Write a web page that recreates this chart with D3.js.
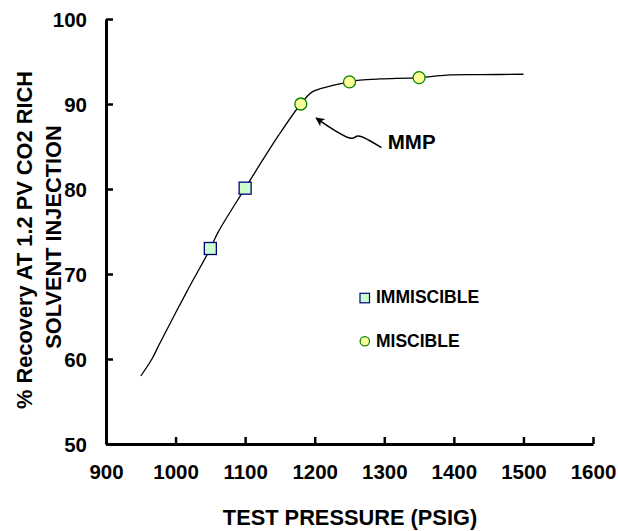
<!DOCTYPE html>
<html>
<head>
<meta charset="utf-8">
<script src="https://cdn.jsdelivr.net/npm/d3@7"></script>
<style>
  body { margin: 0; background: #fff; }
  svg { display: block; font-family: "Liberation Sans", Arial, sans-serif; font-weight: bold; }
</style>
</head>
<body>
<script>
const w = 618;
const h = 531;

// measured points
const immiscibleX = [1050, 1100];
const immiscibleY = [73, 80.1];
const miscibleX = [1180, 1250, 1350];
const miscibleY = [90, 92.6, 93.1];

// the hand drawn trend line
const curveX = [950, 966, 977, 1016, 1050, 1061, 1100, 1148, 1180, 1197, 1222, 1250, 1265, 1294, 1350, 1390, 1438, 1500];
const curveY = [58, 60, 61.8, 67.9, 73, 74.9, 80.1, 86.3, 90, 91.45, 92.1, 92.6, 92.8, 92.95, 93.1, 93.4, 93.45, 93.5];

// MMP pointer, from tail to tip
const arrowX = [1296, 1262.6, 1253, 1202];
const arrowY = [84.86, 86.24, 85.96, 88.35];

const xTicks = [900, 1000, 1100, 1200, 1300, 1400, 1500, 1600];
const yTicks = [50, 60, 70, 80, 90, 100];

const legendNames = ["IMMISCIBLE", "MISCIBLE"];

const svg = d3.select("body")
    .append("svg")
    .attr("width", w)
    .attr("height", h);

const x = d3.scaleLinear().domain([900, 1600]).range([106, 593]);
const y = d3.scaleLinear().domain([50, 100]).range([444, 19]);

const defs = svg.append("defs");
defs.append("marker")
    .attr("id", "head")
    .attr("viewBox", "0 0 10 10")
    .attr("refX", 9)
    .attr("refY", 5)
    .attr("markerWidth", 9)
    .attr("markerHeight", 9)
    .attr("markerUnits", "userSpaceOnUse")
    .attr("orient", "auto")
    .append("path")
    .attr("d", "M0,0 L10,5 L0,10 L2.5,5 Z")
    .attr("fill", "#000");

// axes, ticks pointing inward
const xAxis = svg.append("g")
    .attr("transform", `translate(0,${y(50)})`)
    .call(d3.axisBottom(x).tickValues(xTicks).tickFormat(d3.format("d"))
        .tickSize(-7).tickPadding(20).tickSizeOuter(0));
const yAxis = svg.append("g")
    .attr("transform", `translate(${x(900)},0)`)
    .call(d3.axisLeft(y).tickValues(yTicks).tickFormat(d3.format("d"))
        .tickSize(-7).tickPadding(19).tickSizeOuter(0));

[xAxis, yAxis].forEach(g => {
    g.attr("font-family", null).attr("font-size", null);
    g.select(".domain").attr("stroke", "#000").attr("stroke-width", 3);
    g.selectAll(".tick line").attr("stroke", "#000").attr("stroke-width", 2.5);
    g.selectAll(".tick text")
        .attr("fill", "#000")
        .style("font-size", "20.5px")
        .style("font-weight", "bold");
});
xAxis.selectAll(".tick text").attr("dy", "0.75em");
yAxis.selectAll(".tick text").attr("dy", "0.38em");

// axis titles
svg.append("text")
    .attr("x", 350)
    .attr("y", 525)
    .attr("text-anchor", "middle")
    .style("font-size", "21.8px")
    .text("TEST PRESSURE (PSIG)");

svg.append("text")
    .attr("transform", "translate(32,240) rotate(-90)")
    .attr("text-anchor", "middle")
    .style("font-size", "21.8px")
    .text("% Recovery AT 1.2 PV CO2 RICH");
svg.append("text")
    .attr("transform", "translate(61,237) rotate(-90)")
    .attr("text-anchor", "middle")
    .style("font-size", "21.8px")
    .text("SOLVENT INJECTION");

// trend line
const line = d3.line()
    .x(i => x(curveX[i]))
    .y(i => y(curveY[i]))
    .curve(d3.curveCatmullRom.alpha(0.5));
svg.append("path")
    .attr("d", line(d3.range(curveX.length)))
    .attr("fill", "none")
    .attr("stroke", "#000")
    .attr("stroke-width", 1.3);

// MMP arrow
const arrowLine = d3.line()
    .x(i => x(arrowX[i]))
    .y(i => y(arrowY[i]))
    .curve(d3.curveCatmullRom);
svg.append("path")
    .attr("d", arrowLine(d3.range(arrowX.length)))
    .attr("fill", "none")
    .attr("stroke", "#000")
    .attr("stroke-width", 1.5)
    .attr("marker-end", "url(#head)");

svg.append("text")
    .attr("x", x(1305))
    .attr("y", y(84.7))
    .style("font-size", "20.5px")
    .text("MMP");

// markers
svg.selectAll("rect.imm")
    .data(d3.range(immiscibleX.length))
    .enter()
    .append("rect")
    .attr("class", "imm")
    .attr("x", i => x(immiscibleX[i]) - 6)
    .attr("y", i => y(immiscibleY[i]) - 6)
    .attr("width", 12)
    .attr("height", 12)
    .attr("fill", "#ccffcc")
    .attr("stroke", "#000080")
    .attr("stroke-width", 1.3);

svg.selectAll("circle.mis")
    .data(d3.range(miscibleX.length))
    .enter()
    .append("circle")
    .attr("class", "mis")
    .attr("cx", i => x(miscibleX[i]))
    .attr("cy", i => y(miscibleY[i]))
    .attr("r", 6)
    .attr("fill", "#ffff99")
    .attr("stroke", "#008000")
    .attr("stroke-width", 1.3);

// legend
const legend = svg.append("g");
legend.append("rect")
    .attr("x", 360).attr("y", 293.3)
    .attr("width", 9.5).attr("height", 9.5)
    .attr("fill", "#ccffcc").attr("stroke", "#000080").attr("stroke-width", 1.2);
legend.append("circle")
    .attr("cx", 364.8).attr("cy", 341.3).attr("r", 4.7)
    .attr("fill", "#ffff99").attr("stroke", "#008000").attr("stroke-width", 1.2);
legend.selectAll("text")
    .data(legendNames)
    .enter()
    .append("text")
    .attr("x", 376)
    .attr("y", (d, i) => i === 0 ? 303.3 : 346.7)
    .style("font-size", "17.5px")
    .text(d => d);
</script>
</body>
</html>
